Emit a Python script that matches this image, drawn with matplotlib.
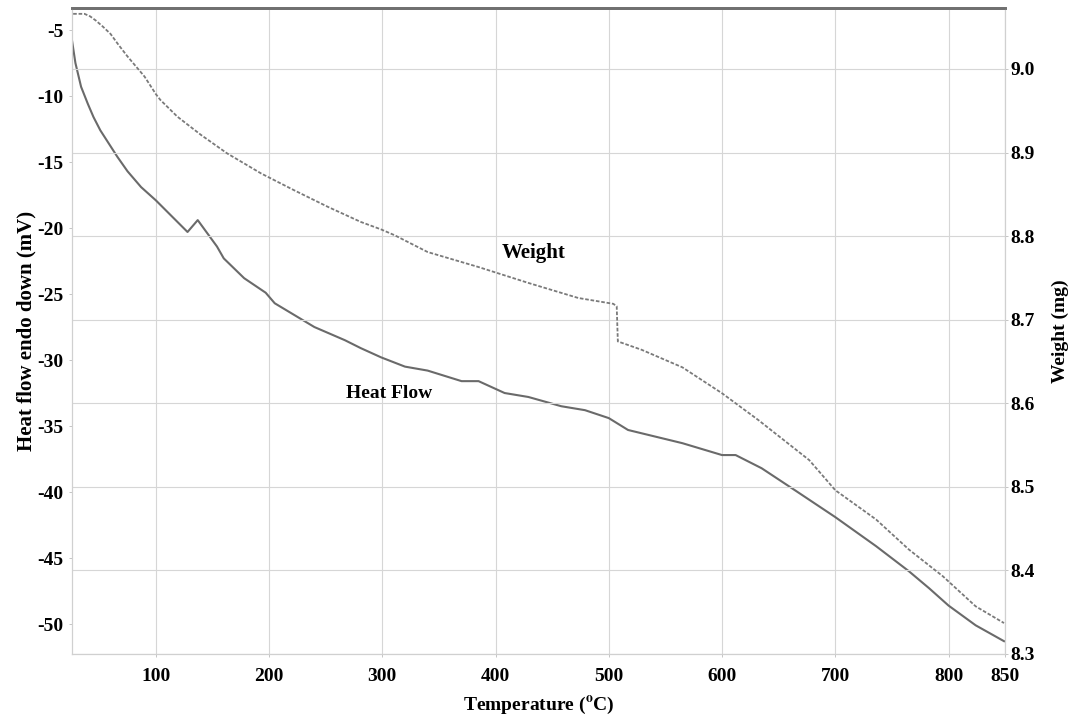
import matplotlib
matplotlib.use("Agg")
import matplotlib.pyplot as plt

plt.rcParams["font.family"] = ["Liberation Serif", "DejaVu Serif"]
plt.rcParams["font.weight"] = "bold"
plt.rcParams["axes.unicode_minus"] = False
plt.rcParams["mathtext.fontset"] = "stix"

# Heat flow curve (mV) vs temperature (C)
heat_t = [26, 29, 34, 40, 45, 51, 60, 66, 75, 87, 100, 128, 137, 154, 160, 178, 197, 205,
          240, 267, 281, 299, 320, 340, 370, 385, 408, 429, 458, 479, 500, 517, 541, 565,
          600, 612, 635, 665, 700, 736, 765, 783, 800, 824, 849]
heat_mv = [-5.8, -7.5, -9.3, -10.6, -11.6, -12.6, -13.8, -14.6, -15.7, -16.9, -17.9, -20.3,
           -19.4, -21.4, -22.3, -23.8, -24.9, -25.7, -27.5, -28.5, -29.1, -29.8, -30.5,
           -30.8, -31.6, -31.6, -32.5, -32.8, -33.5, -33.8, -34.4, -35.3, -35.8, -36.3,
           -37.2, -37.2, -38.2, -39.9, -41.9, -44.1, -46.0, -47.3, -48.6, -50.1, -51.3]

# Weight curve (mg) vs temperature (C)
wt_t = [27, 37, 42, 47, 53, 60, 67, 75, 90, 100, 104, 119, 140, 163, 193, 222, 252, 281,
        299, 311, 340, 385, 429, 473, 504, 507, 508, 529, 565, 600, 632, 677, 700, 736,
        765, 795, 824, 849]
wt_mg = [9.066, 9.066, 9.063, 9.058, 9.051, 9.042, 9.029, 9.015, 8.991, 8.970, 8.963, 8.943,
         8.921, 8.899, 8.875, 8.855, 8.835, 8.817, 8.808, 8.801, 8.781, 8.763, 8.744, 8.726,
         8.719, 8.716, 8.674, 8.664, 8.643, 8.612, 8.580, 8.532, 8.496, 8.461, 8.425,
         8.393, 8.357, 8.337]

x_ticks = [100, 200, 300, 400, 500, 600, 700, 800, 850]
left_ticks = [-5, -10, -15, -20, -25, -30, -35, -40, -45, -50]
right_ticks = [8.3, 8.4, 8.5, 8.6, 8.7, 8.8, 8.9, 9.0]

fig = plt.figure(figsize=(10.75, 7.2), dpi=100)
ax = fig.add_axes([0.067, 0.0917, 0.868, 0.8972])
ax2 = ax.twinx()

ax.plot(heat_t, heat_mv, color="#6a6a6a", lw=1.5, zorder=3)
ax2.plot(wt_t, wt_mg, color="#7a7a7a", lw=1.3, ls=(0, (2, 1)), zorder=3)

ax.set_xlim(26, 850)
ax.set_ylim(-52.27, -3.33)
ax2.set_ylim(8.3, 9.073)

ax.set_xticks(x_ticks)
ax.set_xticklabels([str(t) for t in x_ticks], fontsize=14)
ax.set_yticks(left_ticks)
ax.set_yticklabels([str(t) for t in left_ticks], fontsize=14)
ax2.set_yticks(right_ticks)
ax2.set_yticklabels([f"{t:.1f}" for t in right_ticks], fontsize=14)

ax.tick_params(axis="y", length=2, width=0.6, color="#bbbbbb", pad=4)
ax.tick_params(axis="x", length=2, width=0.6, color="#bbbbbb", pad=8)
ax2.tick_params(axis="y", length=2, width=0.6, color="#bbbbbb", pad=2)

ax.xaxis.grid(True, color="#d6d6d6", lw=0.8)
ax2.yaxis.grid(True, color="#d6d6d6", lw=0.8)
ax.set_axisbelow(True)
ax2.set_axisbelow(True)

for a in (ax, ax2):
    for side in ("left", "right", "bottom"):
        a.spines[side].set_color("#d0d0d0")
        a.spines[side].set_linewidth(0.8)
    a.spines["top"].set_color("#707070")
    a.spines["top"].set_linewidth(2)

ax.set_xlabel(r"Temperature ($\mathbf{^{o}}$C)", fontsize=14, fontweight="bold", labelpad=7)
ax.set_ylabel("Heat flow endo down (mV)", fontsize=15, fontweight="bold", labelpad=1)
ax2.set_ylabel("Weight (mg)", fontsize=14, fontweight="bold", labelpad=12)

ax.text(434, -21.9, "Weight", fontsize=15, fontweight="bold", ha="center", va="center")
ax.text(306, -32.5, "Heat Flow", fontsize=14, fontweight="bold", ha="center", va="center")

fig.savefig("out.png", dpi=100)
